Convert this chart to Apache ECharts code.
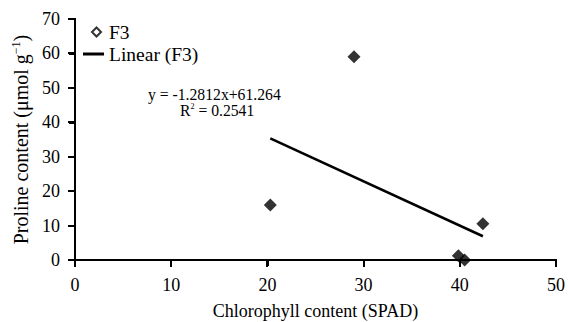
<!DOCTYPE html>
<html><head><meta charset="utf-8">
<script src="https://cdn.jsdelivr.net/npm/echarts@6/dist/echarts.min.js"></script>
<style>html,body{margin:0;padding:0;background:#fff}#c{width:568px;height:322px}</style>
</head><body><div id="c"></div>
<script>
const chlorophyll = [20.3, 29.0, 39.85, 40.5, 42.4];
const proline = [16.0, 59.0, 1.2, 0.0, 10.5];
const trendX = [20.3, 42.4];
const trendY = [35.3, 6.9];
const xTicks = [0, 10, 20, 30, 40, 50];
const yTicks = [0, 10, 20, 30, 40, 50, 60, 70];
const seriesName = 'F3';
const trendName = 'Linear (F3)';
const equationText = 'y = -1.2812x+61.264';
const r2Value = '0.2541';

const font = 'Liberation Serif';
const xMin = xTicks[0], xMax = xTicks[xTicks.length - 1];
const yMin = yTicks[0], yMax = yTicks[yTicks.length - 1];
const TICK = 6;

function lineEl(x1, y1, x2, y2) {
  return {type: 'line', shape: {x1: x1, y1: y1, x2: x2, y2: y2},
          style: {stroke: '#000', lineWidth: 2, lineCap: 'square'}};
}

const chart = echarts.init(document.getElementById('c'), null, {renderer: 'svg'});
chart.setOption({
  animation: false,
  grid: {left: 75, right: 12, top: 19, bottom: 62, containLabel: false, outerBoundsMode: 'none'},
  xAxis: {
    type: 'value', min: xMin, max: xMax, interval: 10,
    axisLine: {show: true, onZero: false, lineStyle: {color: '#000', width: 2}},
    axisTick: {show: true, length: TICK, lineStyle: {color: '#000', width: 2}},
    axisLabel: {fontFamily: font, fontSize: 18, color: '#000', margin: 16},
    splitLine: {show: false},
    name: 'Chlorophyll content (SPAD)', nameLocation: 'middle', nameGap: 42,
    nameTextStyle: {fontFamily: font, fontSize: 18, color: '#000'}
  },
  yAxis: {
    type: 'value', min: yMin, max: yMax, interval: 10,
    axisLine: {show: true, onZero: false, lineStyle: {color: '#000', width: 2}},
    axisTick: {show: true, length: TICK, lineStyle: {color: '#000', width: 2}},
    axisLabel: {fontFamily: font, fontSize: 18, color: '#000', margin: 15},
    splitLine: {show: false},
    name: '{n|Proline content (μmol g}{s|−1}{n|)}', nameLocation: 'middle', nameGap: 40, nameRotate: 90,
    nameTextStyle: {fontFamily: font, fontSize: 20, color: '#000',
      rich: {n: {fontFamily: font, fontSize: 20, color: '#000'},
             s: {fontFamily: font, fontSize: 12, color: '#000', verticalAlign: 'top', padding: [0, 0, 10, 0]}}}
  },
  legend: [
    {left: 91, top: 22, padding: 0, itemWidth: 9, itemHeight: 9, itemGap: 0,
     textStyle: {fontFamily: font, fontSize: 19.5, color: '#000', padding: [0, 0, 0, 3]},
     data: [{name: seriesName, icon: 'diamond', itemStyle: {color: '#fff', borderColor: '#000', borderWidth: 2}}]},
    {left: 83, top: 44, padding: 0, itemWidth: 21, itemHeight: 3, itemGap: 0,
     textStyle: {fontFamily: font, fontSize: 19.5, color: '#000'},
     data: [{name: trendName, icon: 'rect', itemStyle: {color: '#000'}}]}
  ],
  graphic: [
    {type: 'text', left: 148, top: 86, style: {text: equationText, font: '15.7px ' + font, fill: '#000'}},
    {type: 'text', left: 180, top: 102, style: {
      text: '{n|R}{s|2}{n| = ' + r2Value + '}',
      rich: {n: {fontFamily: font, fontSize: 15.7, fill: '#000'},
             s: {fontFamily: font, fontSize: 8, fill: '#000', verticalAlign: 'top', padding: [0, 0, 8, 0]}}}}
  ],
  series: [
    {name: seriesName, type: 'scatter', symbol: 'diamond', symbolSize: 13,
     itemStyle: {color: '#000'},
     data: chlorophyll.map((x, i) => [x, proline[i]])},
    {name: trendName, type: 'line', showSymbol: false, symbol: 'none',
     lineStyle: {color: '#000', width: 2.5},
     data: trendX.map((x, i) => [x, trendY[i]])},
    {type: 'custom', silent: true, clip: false, z: 3,
     data: [[xMin, yMin, xMax, yMin], [xMin, yMin, xMin, yMax]],
     encode: {x: [0, 2], y: [1, 3]},
     renderItem: function (params, api) {
       const a = api.coord([api.value(0), api.value(1)]);
       const b = api.coord([api.value(2), api.value(3)]);
       return lineEl(Math.round(a[0]), Math.round(a[1]), Math.round(b[0]), Math.round(b[1]));
     }},
    {type: 'custom', silent: true, clip: false, z: 3,
     data: xTicks.map(v => [v, yMin]),
     renderItem: function (params, api) {
       const p = api.coord([api.value(0), api.value(1)]);
       const x = Math.round(p[0]), y = Math.round(p[1]);
       return lineEl(x, y, x, y + TICK);
     }},
    {type: 'custom', silent: true, clip: false, z: 3,
     data: yTicks.map(v => [xMin, v]),
     renderItem: function (params, api) {
       const p = api.coord([api.value(0), api.value(1)]);
       const x = Math.round(p[0]), y = Math.round(p[1]);
       return lineEl(x - TICK, y, x, y);
     }}
  ]
});
</script></body></html>
